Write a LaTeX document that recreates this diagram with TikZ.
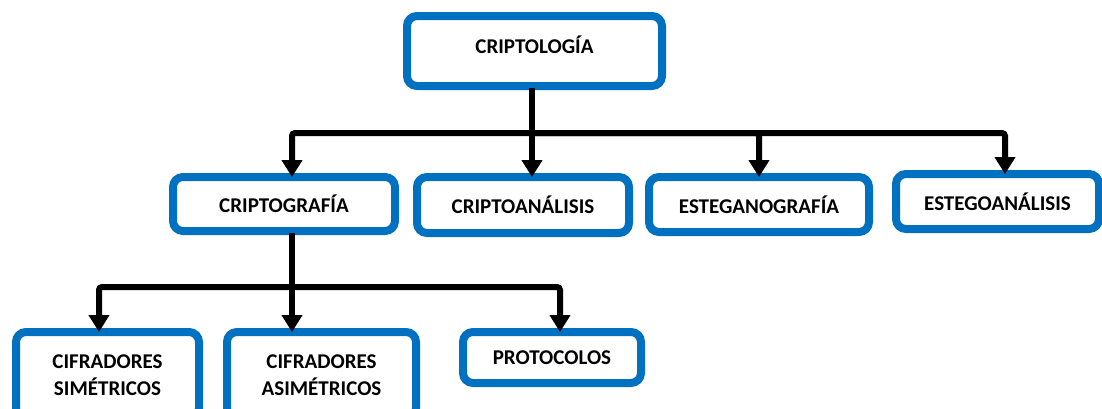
\documentclass[tikz,border=0pt]{standalone}
\usepackage{fontspec}
\setmainfont{Carlito}
\usetikzlibrary{arrows.meta}
\definecolor{boxblue}{HTML}{0070C0}

\begin{document}
\begin{tikzpicture}[x=1pt, y=-1pt, line width=6pt,
      every node/.append style={font=\fontsize{21}{27}\selectfont\bfseries, align=center},
      link/.style={draw=black, rounded corners=3pt},
      arrowlink/.style={link, -{Triangle[length=17pt,width=20pt]}, shorten >=-4pt}]
    \tikzstyle{concept} = [draw=boxblue, line width=8pt, rounded corners=10pt, fill=white, inner sep=0pt]
    \useasboundingbox (0,0) rectangle (1102,408);
    % top level
    \node (criptologia) [concept, minimum width=255pt, minimum height=70pt, text depth=12pt] at (534.5,51) {CRIPTOLOG\'IA};
    % second level
    \node (criptografia) [concept, minimum width=222pt, minimum height=54pt] at (284,204) {CRIPTOGRAF\'IA};
    \node (criptoanalisis) [concept, minimum width=212pt, minimum height=56pt] at (523,205) {CRIPTOAN\'ALISIS};
    \node (esteganografia) [concept, minimum width=220pt, minimum height=55pt] at (759,204.5) {ESTEGANOGRAF\'IA};
    \node (estegoanalisis) [concept, minimum width=203pt, minimum height=55pt] at (997.5,201.5) {ESTEGOAN\'ALISIS};
    % third level
    \node (simetricos) [concept, minimum width=183pt, minimum height=86pt] at (107.5,375) {CIFRADORES\\SIM\'ETRICOS};
    \node (asimetricos) [concept, minimum width=189pt, minimum height=86pt] at (321.5,375) {CIFRADORES\\ASIM\'ETRICOS};
    \node (protocolos) [concept, minimum width=178pt, minimum height=51pt] at (552,357.5) {PROTOCOLOS};

    \coordinate (bar) at (0,133);
    \coordinate (subbar) at (0,287);
    \draw[link, shorten <=-2pt] ([xshift=-2.5pt]criptologia.south) -- ([xshift=-2.5pt]criptologia.south |- bar);
    \foreach \n/\dx in {criptografia/8, criptoanalisis/9, esteganografia/0, estegoanalisis/7.5}
      \draw[arrowlink] ([xshift=-2.5pt]criptologia.south |- bar) -| ([xshift=\dx pt]\n.north);
    \draw[link, shorten <=-2pt] ([xshift=8pt]criptografia.south) -- ([xshift=8pt]criptografia.south |- subbar);
    \foreach \n/\dx in {simetricos/-8.5, asimetricos/-29.5, protocolos/8}
      \draw[arrowlink] ([xshift=8pt]criptografia.south |- subbar) -| ([xshift=\dx pt]\n.north);
  \end{tikzpicture}
\end{document}
